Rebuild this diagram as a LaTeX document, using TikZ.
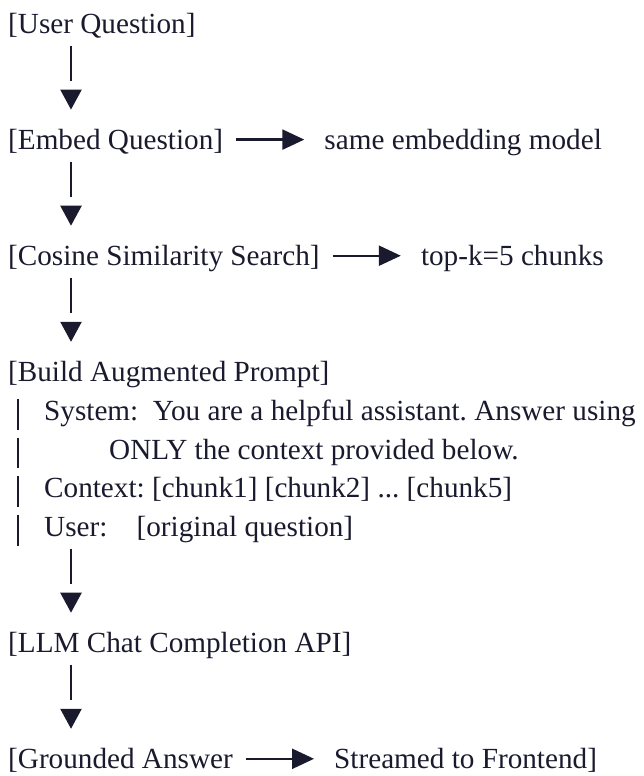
\documentclass[tikz,border=0pt]{standalone}
\usepackage{fontspec}
\setmainfont{Liberation Serif}
\usetikzlibrary{arrows.meta,positioning}
\definecolor{ink}{RGB}{26,26,46}
\frenchspacing
\tikzset{
  txt/.style={inner sep=0pt, anchor=base west, text=ink, font=\fontsize{29.2}{35}\selectfont},
  down/.style={draw=ink, line width=2.4pt, dash pattern=on 35pt off 40pt,
    shorten <=12pt, shorten >=40pt, -{Triangle[length=20pt,width=21pt]}},
  side/.style={draw=ink, line width=2.4pt, shorten <=13pt, shorten >=20pt,
    -{Triangle[length=22pt,width=20pt]}},
  rail/.style={draw=ink, line width=2.4pt, dash pattern=on 30.7pt off 8pt,
    shorten <=17pt, shorten >=-9pt}
}
\begin{document}
\begin{tikzpicture}[x=1pt,y=-38.7pt]
\useasboundingbox (0,-0.8656) rectangle (644,19.186);
\coordinate (stem) at (71,0);
\coordinate (bar) at (18,0);
% main column
\node[txt] (userq) at (8,0) {[User Question]};
\node[txt] (embed) at (8,3) {[Embed Question]};
\node[txt] (cosine) at (8,6) {[Cosine Similarity Search]};
\node[txt] (build) at (8,9) {[Build Augmented Prompt]};
\node[txt] (sys) at (44,10) {System:~~You are a helpful assistant. Answer using};
\node[txt] (only) at (109,11) {ONLY the context provided below.};
\node[txt] (ctx) at (44,12) {Context: [chunk1] [chunk2] ... [chunk5]};
\node[txt] (usr) at (44,13) {User:~~~~[original question]};
\node[txt] (llm) at (8,16) {[LLM Chat Completion API]};
\node[txt] (grounded) at (8,19) {[Grounded Answer};
% side notes
\node[txt, right=101pt of embed.base east, anchor=base west] (samemodel) {same embedding model};
\node[txt, right=101pt of cosine.base east, anchor=base west] (topk) {top-k=5 chunks};
\node[txt, right=101pt of grounded.base east, anchor=base west] (streamed) {Streamed to Frontend]};
% flow
\draw[down] (userq.base -| stem) -- (embed.base -| stem);
\draw[down] (embed.base -| stem) -- (cosine.base -| stem);
\draw[down] (cosine.base -| stem) -- (build.base -| stem);
\draw[down] (usr.base -| stem) -- (llm.base -| stem);
\draw[down] (llm.base -| stem) -- (grounded.base -| stem);
\draw[rail] (build.base -| bar) -- (usr.base -| bar);
\draw[side] ([yshift=10pt]embed.base east) -- ([yshift=10pt]samemodel.base west);
\draw[side] ([yshift=10pt]cosine.base east) -- ([yshift=10pt]topk.base west);
\draw[side] ([yshift=10pt]grounded.base east) -- ([yshift=10pt]streamed.base west);
\end{tikzpicture}
\end{document}
